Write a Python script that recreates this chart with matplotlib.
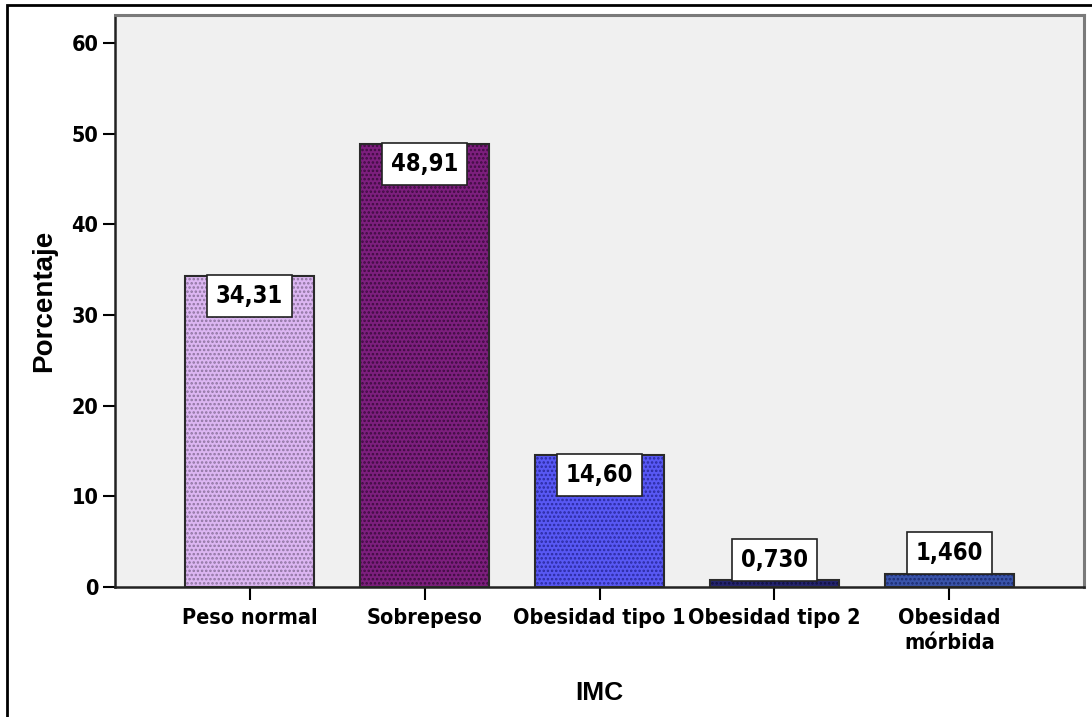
import matplotlib.pyplot as plt
from matplotlib.patches import Rectangle

# data
categorias = ['Peso normal', 'Sobrepeso', 'Obesidad tipo 1', 'Obesidad tipo 2', 'Obesidad\nmórbida']
porcentaje = [34.31, 48.91, 14.60, 0.730, 1.460]
etiquetas = ['34,31', '48,91', '14,60', '0,730', '1,460']
colores = ['#dcb6f2', '#7d1f7e', '#5858f4', '#24246e', '#3a54aa']
colores_trama = ['#8e74a0', '#3e0c40', '#2a2aa0', '#101040', '#1c2c70']
y_ticks = [0, 10, 20, 30, 40, 50, 60]

narrow = dict(family='DejaVu Sans', stretch='condensed', fontweight='bold')
plt.rcParams['hatch.linewidth'] = 1.2

fig = plt.figure(figsize=(10.92, 7.17), dpi=100)
ax = fig.add_axes([0.1053, 0.1813, 0.8874, 0.7977])
ax.set_facecolor('#f0f0f0')

x = range(len(categorias))
# fill + dotted pattern, then outline
ax.bar(x, porcentaje, width=0.74, color=colores, edgecolor=colores_trama,
       linewidth=0, hatch='....', zorder=2)
ax.bar(x, porcentaje, width=0.74, facecolor='none', edgecolor='#2a2a2a',
       linewidth=1.5, zorder=3)

for i, (v, t) in enumerate(zip(porcentaje, etiquetas)):
    if v > 5:
        ax.annotate(t, (i, v), xytext=(0, -6), textcoords='offset points',
                    ha='center', va='top', fontsize=17, zorder=5, **narrow,
                    bbox=dict(boxstyle='square,pad=0.38', fc='white', ec='#222222', lw=1.2))
    else:
        ax.annotate(t, (i, v), xytext=(0, 6), textcoords='offset points',
                    ha='center', va='bottom', fontsize=17, zorder=5, **narrow,
                    bbox=dict(boxstyle='square,pad=0.38', fc='white', ec='#222222', lw=1.2))

ax.set_xlim(-0.77, 4.77)
ax.set_ylim(0, 63.1)
ax.set_yticks(y_ticks)
ax.set_xticks(list(x))
ax.set_xticklabels(categorias, fontsize=15.5, linespacing=1.35, **narrow)
ax.set_yticklabels([str(v) for v in y_ticks], fontsize=15.5, **narrow)
ax.tick_params(axis='y', length=9, width=1.5, pad=3)
ax.tick_params(axis='x', length=9, width=1.5, pad=6)

for s in ['left', 'bottom']:
    ax.spines[s].set_color('#222222')
    ax.spines[s].set_linewidth(1.8)
for s in ['top', 'right']:
    ax.spines[s].set_color('#7a7a7a')
    ax.spines[s].set_linewidth(2.2)

ax.set_xlabel('IMC', fontsize=19, fontweight='bold', family='Liberation Sans', labelpad=20)
ax.set_ylabel('Porcentaje', fontsize=20, fontweight='bold', family='Liberation Sans', labelpad=10)

# outer frame
fig.patches.append(Rectangle((7 / 1092, -0.05), 1.1, 1.05 - 5 / 717, transform=fig.transFigure,
                             fill=False, ec='black', lw=2))

fig.savefig('out.png', dpi=100)
